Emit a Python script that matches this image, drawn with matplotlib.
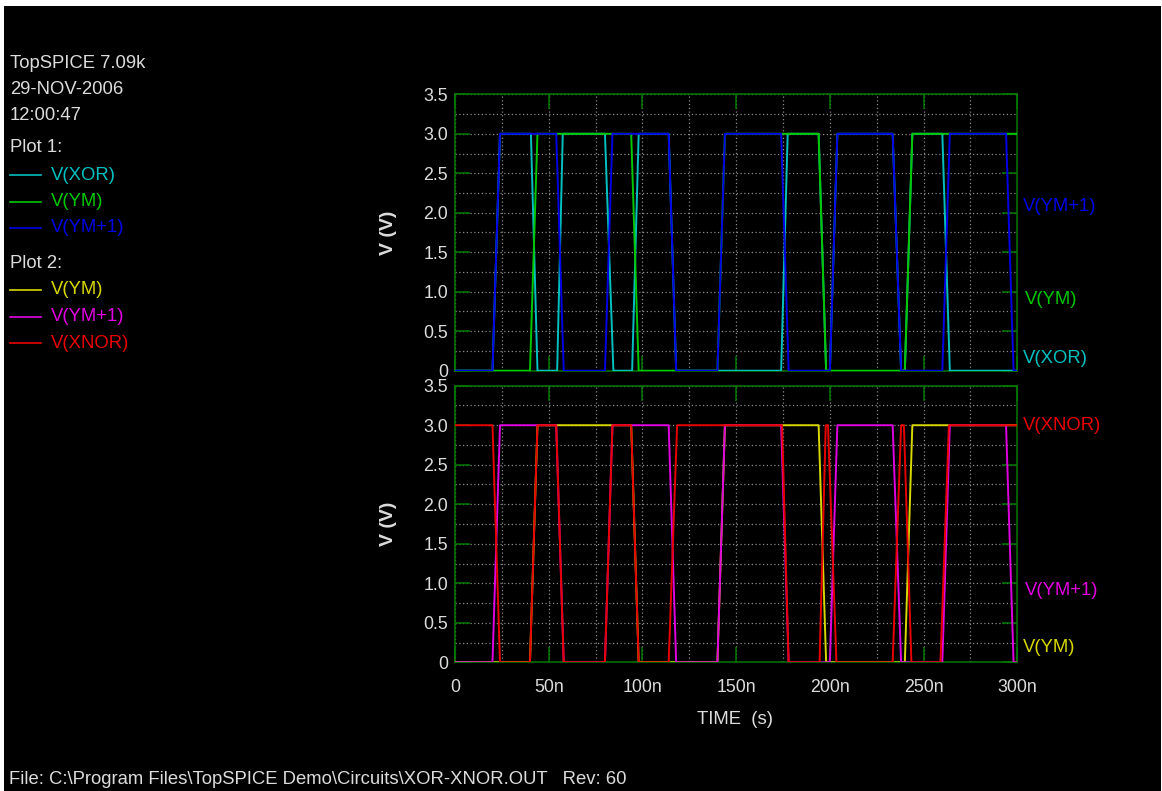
import matplotlib
matplotlib.use("Agg")
import matplotlib.pyplot as plt
from matplotlib.patches import Rectangle
from matplotlib.ticker import MultipleLocator

plt.rcParams['font.family'] = ['Liberation Sans', 'DejaVu Sans']

W, H = 1162, 791

# ---- simulation breakpoints (time in ns, voltage in V) ----
t_ym1 = [0, 20, 24, 54, 58, 80, 84, 114, 118, 140, 144, 174, 178, 200, 204,
         233.5, 238, 260, 264, 294, 298, 300]
v_ym1 = [0, 0, 3, 3, 0, 0, 3, 3, 0, 0, 3, 3, 0, 0, 3,
         3, 0, 0, 3, 3, 0, 0]

t_ym = [0, 40, 44, 94, 98, 140, 144, 194, 198, 240, 244, 300]
v_ym = [0, 0, 3, 3, 0, 0, 3, 3, 0, 0, 3, 3]

t_xor = [0, 20, 24, 40.5, 44, 54.5, 57.5, 80, 84.5, 94.5, 98, 114, 118,
         174, 177.5, 194, 198, 200, 204, 233.5, 238, 240, 244, 260, 264, 300]
v_xor = [0, 0, 3, 3, 0, 0, 3, 3, 0, 0, 3, 3, 0,
         0, 3, 3, 0, 0, 3, 3, 0, 0, 3, 3, 0, 0]

t_xnor = [0, 20, 24, 40, 44, 54, 58, 80, 84, 94, 98, 114, 118.5,
          174.5, 178, 194.5, 197.8, 199, 203.5, 233.5, 238, 239.5, 243.5, 259, 263.5, 300]
v_xnor = [3, 3, 0, 0, 3, 3, 0, 0, 3, 3, 0, 0, 3,
          3, 0, 0, 3, 3, 0, 0, 3, 3, 0, 0, 3, 3]

x_ticks = [0, 50, 100, 150, 200, 250, 300]
x_labels = ['0', '50n', '100n', '150n', '200n', '250n', '300n']
y_ticks = [0, 0.5, 1.0, 1.5, 2.0, 2.5, 3.0, 3.5]
y_labels = ['0', '0.5', '1.0', '1.5', '2.0', '2.5', '3.0', '3.5']

C_XOR = '#00c0c0'
C_YM = '#00c800'
C_YM1 = '#0000e6'
C_YM_2 = '#d8d800'
C_YM1_2 = '#e000e0'
C_XNOR = '#e80000'

FRAME = '#007800'
GRID = '#8a8a8a'
TXT = '#dcdcdc'
FS = 13.3

fig = plt.figure(figsize=(W / 100, H / 100), dpi=100, facecolor='white')
fig.patches.append(Rectangle((4 / W, 0), (W - 5) / W, (H - 6) / H,
                             transform=fig.transFigure, facecolor='black',
                             edgecolor='none', zorder=-10))


def px_box(x0, y0, x1, y1):
    return [x0 / W, 1 - y1 / H, (x1 - x0) / W, (y1 - y0) / H]


def style_axes(ax, show_x):
    ax.set_facecolor('black')
    ax.set_xlim(0, 300)
    ax.set_ylim(0, 3.5)
    for s in ax.spines.values():
        s.set_color(FRAME)
        s.set_linewidth(1.1)
    ax.set_xticks(x_ticks)
    ax.set_yticks(y_ticks)
    ax.set_yticklabels(y_labels)
    if show_x:
        ax.set_xticklabels(x_labels)
    else:
        ax.set_xticklabels([])
    ax.xaxis.set_minor_locator(MultipleLocator(25))
    ax.yaxis.set_minor_locator(MultipleLocator(0.25))
    ax.tick_params(which='major', direction='in', length=11, width=1.1,
                   color=FRAME, top=True, right=True, labelsize=12.8,
                   labelcolor=TXT)
    ax.tick_params(axis='y', which='major', pad=5)
    ax.tick_params(axis='x', which='major', pad=12)
    ax.tick_params(which='minor', length=0)
    ax.grid(which='both', color=GRID, linestyle=(0, (1, 2)), linewidth=0.9)
    ax.set_axisbelow(True)


ax1 = fig.add_axes(px_box(455, 94.3, 1017.3, 370.7))
ax2 = fig.add_axes(px_box(455, 385.7, 1017.3, 662.3))
style_axes(ax1, False)
style_axes(ax2, True)

lw = 1.4
ax1.plot(t_xor, v_xor, color=C_XOR, lw=lw, zorder=3)
ax1.plot(t_ym, v_ym, color=C_YM, lw=lw, zorder=4)
ax1.plot(t_ym1, v_ym1, color=C_YM1, lw=lw, zorder=5)

ax2.plot(t_ym, v_ym, color=C_YM_2, lw=lw, zorder=3)
ax2.plot(t_ym1, v_ym1, color=C_YM1_2, lw=lw, zorder=4)
ax2.plot(t_xnor, v_xnor, color=C_XNOR, lw=lw, zorder=5)

# trace names at the right edge
right_labels = [
    (ax1, 'V(YM+1)', 2.08, C_YM1, 1022.5),
    (ax1, 'V(YM)', 0.9, C_YM, 1025),
    (ax1, 'V(XOR)', 0.16, C_XOR, 1022.5),
    (ax2, 'V(XNOR)', 3.0, C_XNOR, 1023),
    (ax2, 'V(YM+1)', 0.91, C_YM1_2, 1025),
    (ax2, 'V(YM)', 0.19, C_YM_2, 1023),
]
for ax, name, yv, col, xpx in right_labels:
    ax.text((xpx - 455) / (1017.3 - 455), yv, name, color=col, fontsize=FS,
            va='center', ha='left', transform=ax.get_yaxis_transform(),
            clip_on=False)

# axis titles
for yc in [(94.3 + 370.7) / 2, (385.7 + 662.3) / 2]:
    fig.text(388.5 / W, 1 - yc / H, 'V (V)', rotation=90, color=TXT,
             fontsize=14, fontweight='bold', ha='center', va='center')
fig.text(735 / W, 1 - 720 / H, 'TIME  (s)', color=TXT, fontsize=FS,
         ha='center', va='center')


# header block and trace key
def ftext(x, y, s, col=TXT, **kw):
    fig.text(x / W, 1 - y / H, s, color=col, fontsize=FS, ha='left',
             va='center', **kw)


ftext(10, 64, 'TopSPICE 7.09k')
ftext(10, 90, '29-NOV-2006')
ftext(10, 116, '12:00:47')
ftext(10, 148, 'Plot 1:')
ftext(10, 263, 'Plot 2:')

key = [
    ('V(XOR)', C_XOR, 175), ('V(YM)', C_YM, 201.5), ('V(YM+1)', C_YM1, 228),
    ('V(YM)', C_YM_2, 290), ('V(YM+1)', C_YM1_2, 316.5), ('V(XNOR)', C_XNOR, 343),
]
for name, col, y in key:
    fig.add_artist(plt.Line2D([10 / W, 41 / W], [1 - y / H, 1 - y / H],
                              color=col, lw=1.2, transform=fig.transFigure))
    ftext(51, y, name, col=col)

ftext(9, 779, 'File: C:\\Program Files\\TopSPICE Demo\\Circuits\\XOR-XNOR.OUT   Rev: 60')

fig.savefig('out.png', dpi=100, facecolor='white')
